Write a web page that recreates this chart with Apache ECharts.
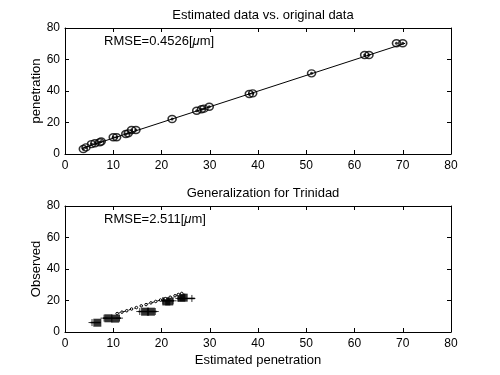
<!DOCTYPE html>
<html><head><meta charset="utf-8">
<script src="https://cdn.jsdelivr.net/npm/echarts@6/dist/echarts.min.js"></script>
<style>html,body{margin:0;padding:0;background:#fff}#c{width:500px;height:375px}</style>
</head><body><div id="c"></div>
<script>
// Top panel: estimated vs original (circles) and fit line
const topEst = [3.8, 4.35, 5.5, 6.2, 7.2, 7.5, 10.0, 10.7, 12.6, 13.1, 13.8, 14.7, 22.2, 27.3, 28.3, 28.8, 29.9, 38.2, 38.9, 51.1, 62.1, 63.0, 68.7, 70.0];
const topOrig = [3.2, 4.2, 6.3, 6.8, 7.4, 7.9, 10.6, 10.6, 12.7, 13.1, 15.2, 15.2, 22.2, 27.5, 28.4, 28.8, 30.0, 38.1, 38.5, 51.2, 62.9, 62.9, 70.3, 70.3];
const topLineX = [3.5, 70.5];
const topLineY = [3.6, 70.3];
// Bottom panel: observed (squares), horizontal error bars, estimated curve
const sqX = [6.7, 9.0, 10.4, 16.6, 17.8, 21.0, 21.6, 24.1, 24.6];
const sqY = [5.9, 8.7, 8.5, 12.9, 12.9, 19.4, 19.4, 21.8, 21.8];
const barLo = [5.3, 7.9, 15.2, 20.0, 23.3];
const barHi = [7.4, 11.6, 19.0, 22.6, 26.9];
const barY = [6.0, 8.8, 13.0, 19.8, 21.3];
const plusX = [5.6, 8.1, 11.3, 15.5, 18.7, 20.3, 22.4, 23.6, 26.3];
const plusY = [6.0, 8.8, 8.8, 13.0, 13.0, 19.8, 19.8, 21.3, 21.3];
const curveX = [10.8, 11.8, 12.8, 13.8, 14.8, 15.8, 16.8, 17.8, 18.8, 19.8, 20.8, 21.8, 22.8, 23.5, 24.2];
const curveY = [11.7, 12.6, 13.5, 14.6, 15.5, 16.6, 17.4, 18.5, 19.4, 20.3, 21.2, 22.1, 23.0, 23.8, 24.5];
const xTicks = [0, 10, 20, 30, 40, 50, 60, 70, 80];
const yTicks = [0, 20, 40, 60, 80];

const FONT = 'Liberation Sans';
const zip = (a, b) => a.map((v, i) => [v, b[i]]);
const chart = echarts.init(document.getElementById('c'), null, {renderer: 'canvas'});

function xa(grid, show, pos, name) {
  return {type: 'value', gridIndex: grid, min: xTicks[0], max: xTicks[xTicks.length-1], interval: 10,
    position: pos, name: name || '', nameLocation: 'middle', nameGap: 22, nameMoveOverlap: false,
    nameTextStyle: {color: '#000', fontFamily: FONT, fontSize: 13},
    axisLine: {show: true, onZero: false, lineStyle: {color: '#000', width: 1}},
    axisTick: {show: true, inside: true, length: 4, lineStyle: {color: '#000'}},
    axisLabel: {show: show, color: '#000', fontFamily: FONT, fontSize: 12, margin: 6},
    splitLine: {show: false}};
}
function ya(grid, show, pos, name) {
  return {type: 'value', gridIndex: grid, min: yTicks[0], max: yTicks[yTicks.length-1], interval: 20,
    position: pos, name: name || '', nameLocation: 'middle', nameGap: 22, nameMoveOverlap: false,
    nameTextStyle: {color: '#000', fontFamily: FONT, fontSize: 13},
    axisLine: {show: true, onZero: false, lineStyle: {color: '#000', width: 1}},
    axisTick: {show: true, inside: true, length: 4, lineStyle: {color: '#000'}},
    axisLabel: {show: show, color: '#000', fontFamily: FONT, fontSize: 12, margin: 5},
    splitLine: {show: false}};
}

const plusPath = 'path://M0,5 L10,5 M5,0 L5,10';
const rich = {n: {fontFamily: FONT, fontSize: 13, fill: '#000'}, i: {fontFamily: FONT, fontSize: 13, fontStyle: 'italic', fill: '#000'}};

chart.setOption({
  animation: false,
  backgroundColor: '#fff',
  title: [
    {text: 'Estimated data vs. original data', left: 258, top: 4, textAlign: 'center',
     textStyle: {fontFamily: FONT, fontSize: 13, fontWeight: 'normal', color: '#000'}},
    {text: 'Generalization for Trinidad', left: 258, top: 182, textAlign: 'center',
     textStyle: {fontFamily: FONT, fontSize: 13, fontWeight: 'normal', color: '#000'}}
  ],
  grid: [
    {left: 65, top: 28, width: 386, height: 126},
    {left: 65, top: 206, width: 386, height: 126}
  ],
  xAxis: [xa(0, true, 'bottom'), xa(0, false, 'top'), xa(1, true, 'bottom', 'Estimated penetration'), xa(1, false, 'top')],
  yAxis: [ya(0, true, 'left', 'penetration'), ya(0, false, 'right'), ya(1, true, 'left', 'Observed'), ya(1, false, 'right')],
  graphic: [
    {type: 'text', left: 104, top: 35, style: {rich: rich, text: '{n|RMSE=0.4526[}{i|μ}{n|m]}'}},
    {type: 'text', left: 104, top: 213, style: {rich: rich, text: '{n|RMSE=2.511[}{i|μ}{n|m]}'}}
  ],
  series: [
    {type: 'line', xAxisIndex: 0, yAxisIndex: 0, data: zip(topLineX, topLineY), symbol: 'none',
     lineStyle: {color: '#000', width: 1}},
    {type: 'scatter', xAxisIndex: 0, yAxisIndex: 0, data: zip(topEst, topOrig), symbol: 'circle', symbolSize: [8, 7],
     itemStyle: {color: 'rgba(0,0,0,0)', borderColor: '#000', borderWidth: 1.5}},
    {type: 'scatter', xAxisIndex: 0, yAxisIndex: 0, data: zip(topEst, topOrig), symbol: 'circle', symbolSize: 3,
     itemStyle: {color: '#000'}},
    {type: 'custom', xAxisIndex: 2, yAxisIndex: 2, data: barY.map((y, i) => [barLo[i], barHi[i], y]),
     renderItem: function (params, api) {
       const a = api.coord([api.value(0), api.value(2)]);
       const b = api.coord([api.value(1), api.value(2)]);
       return {type: 'line', shape: {x1: a[0], y1: a[1], x2: b[0], y2: b[1]}, style: {stroke: '#000', lineWidth: 1.5}};
     }},
    {type: 'scatter', xAxisIndex: 2, yAxisIndex: 2, data: zip(plusX, plusY), symbol: plusPath, symbolSize: 7,
     itemStyle: {color: 'none', borderColor: '#000', borderWidth: 1}},
    {type: 'line', xAxisIndex: 2, yAxisIndex: 2, data: zip(curveX, curveY), symbol: 'circle', symbolSize: 2.5,
     showSymbol: true, itemStyle: {color: '#fff', borderColor: '#000', borderWidth: 1},
     lineStyle: {color: '#000', width: 1, type: [3, 3]}},
    {type: 'scatter', xAxisIndex: 2, yAxisIndex: 2, data: zip(sqX, sqY), symbol: 'rect', symbolSize: 8,
     itemStyle: {color: '#000'}}
  ]
});
</script></body></html>
